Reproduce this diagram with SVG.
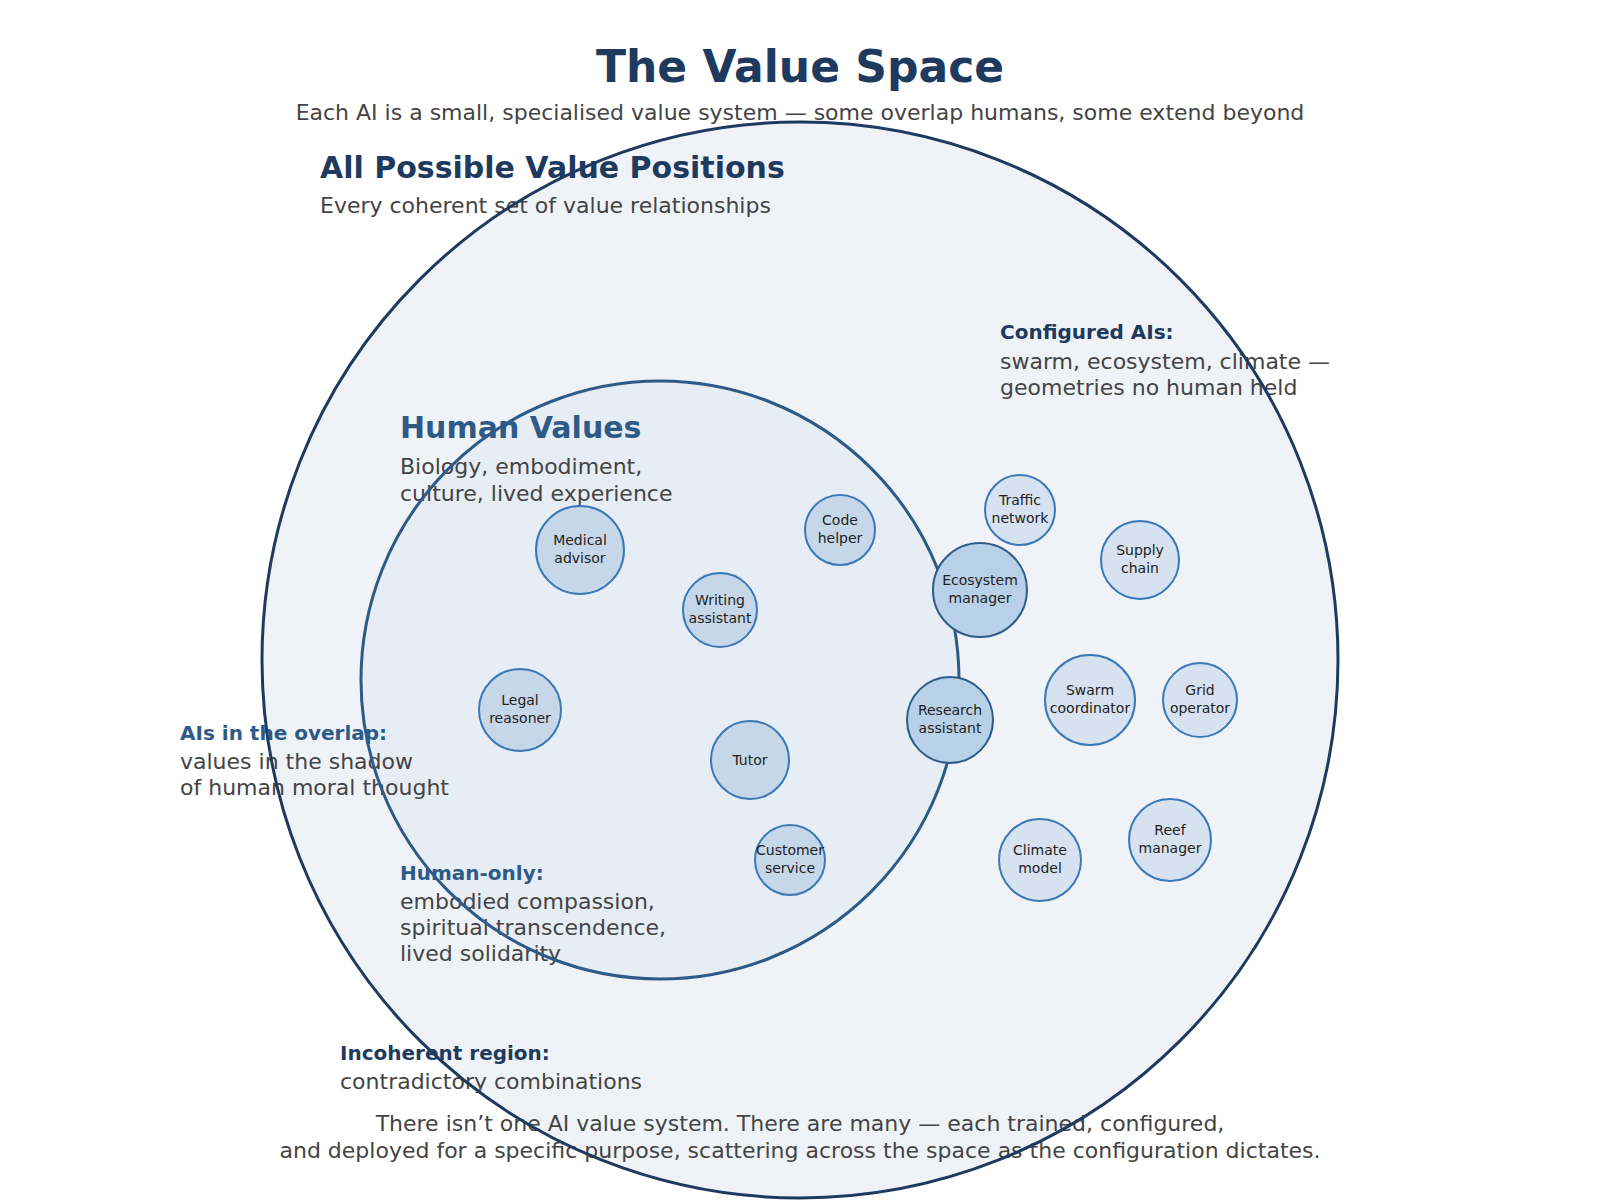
<svg xmlns="http://www.w3.org/2000/svg" width="1600" height="1200" viewBox="0 0 1600 1200">
<style>
text{font-family:"DejaVu Sans","Noto Sans",sans-serif}
.title{font-size:44px;font-weight:bold;fill:#1e3a5f}
.sub{font-size:22px;fill:#444}
.h1{font-size:30px;font-weight:bold;fill:#1e3a5f}
.h2{font-size:30px;font-weight:bold;fill:#2e5a88}
.lbl{font-size:20px;font-weight:bold}
.dk{fill:#1e3a5f}
.md{fill:#2e5a88}
.body{font-size:22px;fill:#444}
.node circle{stroke:#3a78b8;stroke-width:2}
.in circle{fill:#c5d7e8}
.out circle{fill:#d6e2ef}
.ov circle{fill:#b8d0e8;stroke:#2e5a88}
.node text{font-size:14px;fill:#222;text-anchor:middle}
</style>
<rect width="1600" height="1200" fill="#ffffff"/>
<g id="space-fill">
<circle cx="800" cy="660" r="538" fill="#eff3f8"/>
<circle cx="660" cy="680" r="299" fill="#e7edf5"/>
</g>
<g id="labels">
<text class="title" x="800" y="82" text-anchor="middle">The Value Space</text>
<text class="sub" x="800" y="120" text-anchor="middle">Each AI is a small, specialised value system — some overlap humans, some extend beyond</text>
<text class="h1" x="320" y="178">All Possible Value Positions</text>
<text class="sub" x="320" y="213">Every coherent set of value relationships</text>
<text class="lbl dk" x="1000" y="339">Configured AIs:</text>
<text class="body" x="1000" y="369">swarm, ecosystem, climate —</text>
<text class="body" x="1000" y="395">geometries no human held</text>
<text class="h2" x="400" y="438">Human Values</text>
<text class="body" x="400" y="474">Biology, embodiment,</text>
<text class="body" x="400" y="501">culture, lived experience</text>
<text class="lbl md" x="180" y="740">AIs in the overlap:</text>
<text class="body" x="180" y="769">values in the shadow</text>
<text class="body" x="180" y="795">of human moral thought</text>
<text class="lbl md" x="400" y="880">Human-only:</text>
<text class="body" x="400" y="909">embodied compassion,</text>
<text class="body" x="400" y="935">spiritual transcendence,</text>
<text class="body" x="400" y="961">lived solidarity</text>
<text class="lbl dk" x="340" y="1060">Incoherent region:</text>
<text class="body" x="340" y="1089">contradictory combinations</text>
<text class="body" x="800" y="1131" text-anchor="middle">There isn’t one AI value system. There are many — each trained, configured,</text>
<text class="body" x="800" y="1158" text-anchor="middle">and deployed for a specific purpose, scattering across the space as the configuration dictates.</text>
</g>
<g id="space-outline" fill="none">
<circle cx="800" cy="660" r="538" stroke="#1e3a5f" stroke-width="3"/>
<circle cx="660" cy="680" r="299" stroke="#2e5a88" stroke-width="3"/>
</g>
<g id="connectors"></g>
<g id="medical-advisor" class="node in"><circle cx="580" cy="550" r="44"/><text x="580" y="545">Medical</text><text x="580" y="563">advisor</text></g>
<g id="code-helper" class="node in"><circle cx="840" cy="530" r="35"/><text x="840" y="525">Code</text><text x="840" y="543">helper</text></g>
<g id="writing-assistant" class="node in"><circle cx="720" cy="610" r="37"/><text x="720" y="605">Writing</text><text x="720" y="623">assistant</text></g>
<g id="legal-reasoner" class="node in"><circle cx="520" cy="710" r="41"/><text x="520" y="705">Legal</text><text x="520" y="723">reasoner</text></g>
<g id="tutor" class="node in"><circle cx="750" cy="760" r="39"/><text x="750" y="765">Tutor</text></g>
<g id="customer-service" class="node in"><circle cx="790" cy="860" r="35"/><text x="790" y="855">Customer</text><text x="790" y="873">service</text></g>
<g id="traffic-network" class="node out"><circle cx="1020" cy="510" r="35"/><text x="1020" y="505">Traffic</text><text x="1020" y="523">network</text></g>
<g id="ecosystem-manager" class="node ov"><circle cx="980" cy="590" r="47"/><text x="980" y="585">Ecosystem</text><text x="980" y="603">manager</text></g>
<g id="supply-chain" class="node out"><circle cx="1140" cy="560" r="39"/><text x="1140" y="555">Supply</text><text x="1140" y="573">chain</text></g>
<g id="research-assistant" class="node ov"><circle cx="950" cy="720" r="43"/><text x="950" y="715">Research</text><text x="950" y="733">assistant</text></g>
<g id="swarm-coordinator" class="node out"><circle cx="1090" cy="700" r="45"/><text x="1090" y="695">Swarm</text><text x="1090" y="713">coordinator</text></g>
<g id="grid-operator" class="node out"><circle cx="1200" cy="700" r="37"/><text x="1200" y="695">Grid</text><text x="1200" y="713">operator</text></g>
<g id="climate-model" class="node out"><circle cx="1040" cy="860" r="41"/><text x="1040" y="855">Climate</text><text x="1040" y="873">model</text></g>
<g id="reef-manager" class="node out"><circle cx="1170" cy="840" r="41"/><text x="1170" y="835">Reef</text><text x="1170" y="853">manager</text></g>
</svg>
